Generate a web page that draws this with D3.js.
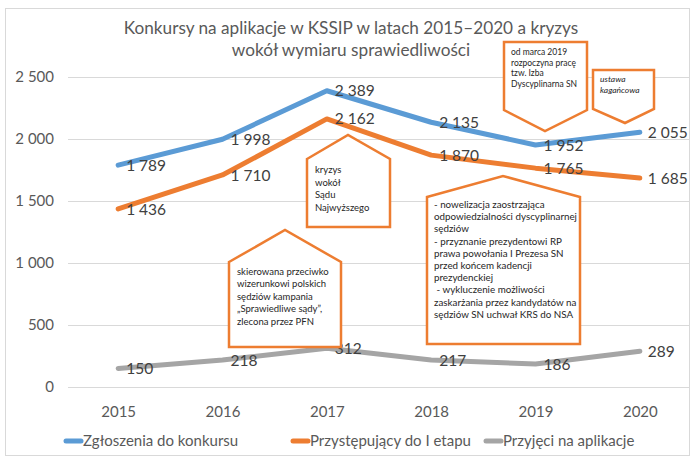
<!DOCTYPE html>
<html>

<head>
  <meta charset="utf-8">
  <title>Konkursy KSSIP</title>
  <script type="text/javascript" src="https://cdn.jsdelivr.net/npm/d3@7"></script>
  <style type="text/css">
    body { margin: 0; background: #fff; }
    text { font-family: Lato, "Open Sans", sans-serif; }
  </style>
</head>

<body>
  <script type="text/javascript">

    // Dane
    const years = ["2015", "2016", "2017", "2018", "2019", "2020"];
    const zgloszenia = [1789, 1998, 2389, 2135, 1952, 2055];
    const przystepujacy = [1436, 1710, 2162, 1870, 1765, 1685];
    const przyjeci = [150, 218, 312, 217, 186, 289];
    const seriesNames = ["Zgłoszenia do konkursu", "Przystępujący do I etapu", "Przyjęci na aplikacje"];
    const yTicks = [0, 500, 1000, 1500, 2000, 2500];

    const titleLines = ["Konkursy na aplikacje w KSSIP w latach 2015–2020 a kryzys",
      "wokół wymiaru sprawiedliwości"];

    // Teksty w dymkach
    const noteKryzys = ["kryzys", "wokół", "Sądu", "Najwyższego"];
    const noteKampania = ["skierowana przeciwko", "wizerunkowi polskich", "sędziów kampania",
      "„Sprawiedliwe sądy”,", "zlecona przez PFN"];
    const noteNowelizacja = ["- nowelizacja zaostrzająca", "odpowiedzialności dyscyplinarnej",
      "sędziów", "- przyznanie prezydentowi RP", "prawa powołania I Prezesa SN",
      "przed końcem kadencji", "prezydenckiej", " - wykluczenie możliwości",
      "zaskarżania przez kandydatów na", "sędziów SN uchwał KRS do NSA"];
    const noteIzba = ["od marca 2019", "rozpoczyna pracę", "tzw. Izba", "Dyscyplinarna SN"];
    const noteUstawa = ["ustawa", "kagańcowa"];

    const w = 694;
    const h = 458;
    const colors = ["#5B9BD5", "#ED7D31", "#A5A5A5"];

    const pl = d3.formatLocale({ decimal: ",", thousands: "\u00a0", grouping: [3], currency: ["", " zł"] });
    const fmt = pl.format(",d");

    const svg = d3.select("body")
      .append("svg")
      .attr("width", w)
      .attr("height", h);

    // ramka
    svg.append("rect")
      .attr("x", 5.5).attr("y", 8.5)
      .attr("width", 684).attr("height", 447)
      .attr("fill", "#fff")
      .attr("stroke", "#D9D9D9");

    // tytul
    svg.append("g").selectAll("text")
      .data(titleLines)
      .enter()
      .append("text")
      .attr("x", 351)
      .attr("y", (d, i) => 34 + i * 22)
      .attr("text-anchor", "middle")
      .attr("font-size", 17.2)
      .attr("fill", "#595959")
      .text(d => d);

    const x = d3.scalePoint().domain(years).range([66, 692]).padding(0.5);
    const y = d3.scaleLinear().domain([0, 2500]).range([387, 77]);

    // siatka
    svg.append("g")
      .selectAll("line")
      .data(yTicks)
      .enter()
      .append("line")
      .attr("x1", 68).attr("x2", 690)
      .attr("y1", d => Math.round(y(d)) + 0.5)
      .attr("y2", d => Math.round(y(d)) + 0.5)
      .attr("stroke", "#D9D9D9")
      .attr("stroke-width", 1);

    // os Y
    const yAxis = svg.append("g")
      .attr("transform", "translate(54,0)")
      .call(d3.axisLeft(y).tickValues(yTicks).tickFormat(fmt).tickSize(0).tickPadding(0));
    yAxis.select(".domain").remove();
    yAxis.selectAll("text")
      .attr("font-size", 15)
      .attr("fill", "#595959")
      .style("font-family", "Lato, sans-serif");

    // os X
    const xAxis = svg.append("g")
      .attr("transform", "translate(0,398)")
      .call(d3.axisBottom(x).tickSize(0).tickPadding(8));
    xAxis.select(".domain").remove();
    xAxis.selectAll("text")
      .attr("font-size", 15)
      .attr("fill", "#595959")
      .style("font-family", "Lato, sans-serif");

    const series = [zgloszenia, przystepujacy, przyjeci];

    const line = d3.line()
      .x((d, i) => x(years[i]))
      .y(d => y(d));

    // linie
    svg.append("g")
      .selectAll("path")
      .data(series)
      .enter()
      .append("path")
      .attr("d", line)
      .attr("fill", "none")
      .attr("stroke", (d, i) => colors[i])
      .attr("stroke-width", 5)
      .attr("stroke-linecap", "round")
      .attr("stroke-linejoin", "round");

    // etykiety danych
    series.forEach(function (s) {
      svg.append("g")
        .selectAll("text")
        .data(s)
        .enter()
        .append("text")
        .attr("x", (d, i) => x(years[i]) + 8)
        .attr("y", d => y(d))
        .attr("dy", "0.36em")
        .attr("font-size", 15.5)
        .attr("fill", "#404040")
        .text(d => fmt(d));
    });

    // dymki
    function pointUp(b) {
      return "M" + b.x0 + "," + b.sh + " L" + b.px + "," + b.py + " L" + b.x1 + "," + b.sh +
        " L" + b.x1 + "," + b.y1 + " L" + b.x0 + "," + b.y1 + " Z";
    }
    function pointDown(b) {
      return "M" + b.x0 + "," + b.y0 + " L" + b.x1 + "," + b.y0 + " L" + b.x1 + "," + b.sh +
        " L" + b.px + "," + b.py + " L" + b.x0 + "," + b.sh + " Z";
    }

    const notes = [
      { lines: noteKryzys, shape: pointUp, x0: 307, x1: 390, sh: 159, px: 348, py: 135, y1: 227, tx: 315, ty: 173, lh: 12.5, fs: 9.5 },
      { lines: noteKampania, shape: pointUp, x0: 229, x1: 341, sh: 262, px: 285, py: 230, y1: 347, tx: 237, ty: 275, lh: 12.4, fs: 9.5 },
      { lines: noteNowelizacja, shape: pointUp, x0: 427, x1: 580, sh: 197, px: 503, py: 176, y1: 344, tx: 434, ty: 208, lh: 12.2, fs: 9.8 },
      { lines: noteIzba, shape: pointDown, x0: 504, x1: 587, y0: 42, sh: 110, px: 545, py: 131, tx: 511, ty: 55, lh: 10.5, fs: 8.5 },
      { lines: noteUstawa, shape: pointDown, x0: 593, x1: 654, y0: 70, sh: 109, px: 625, py: 123, tx: 600, ty: 82, lh: 11, fs: 8.5, italic: true }
    ];

    notes.forEach(function (n) {
      const g = svg.append("g");
      g.append("path")
        .attr("d", n.shape(n))
        .attr("fill", "#fff")
        .attr("stroke", "#ED7D31")
        .attr("stroke-width", 2.5)
        .attr("stroke-linejoin", "miter");
      g.selectAll("text")
        .data(n.lines)
        .enter()
        .append("text")
        .attr("x", n.tx)
        .attr("y", (d, i) => n.ty + i * n.lh)
        .attr("font-size", n.fs)
        .attr("font-style", n.italic ? "italic" : "normal")
        .attr("fill", "#262626")
        .style("white-space", "pre")
        .text(d => d);
    });

    // legenda
    const legendX = [64, 291, 484];
    const legend = svg.append("g")
      .selectAll("g")
      .data(seriesNames)
      .enter()
      .append("g")
      .attr("transform", (d, i) => "translate(" + legendX[i] + ",441)");
    legend.append("line")
      .attr("x1", 2).attr("x2", 17)
      .attr("stroke", (d, i) => colors[i])
      .attr("stroke-width", 5)
      .attr("stroke-linecap", "round");
    legend.append("text")
      .attr("x", 19)
      .attr("dy", "0.36em")
      .attr("font-size", 15)
      .attr("fill", "#595959")
      .text(d => d);

  </script>
</body>

</html>
